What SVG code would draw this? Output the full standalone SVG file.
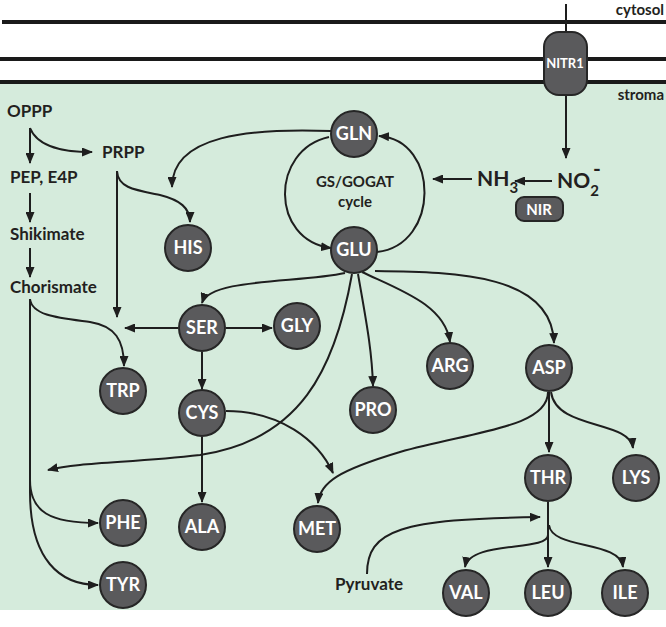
<svg xmlns="http://www.w3.org/2000/svg" width="666" height="627" viewBox="0 0 666 627">
<defs>
<marker id="ah" markerUnits="userSpaceOnUse" markerWidth="11" markerHeight="9" refX="10" refY="4.5" orient="auto">
<path d="M0,0 L11,4.5 L0,9 Z" fill="#1e1e1e"/>
</marker>
</defs>
<style>
.bg{fill:#d5ebdc}
.mem{stroke:#1a1a1a;stroke-width:4;fill:none}
.c{fill:none;stroke:#1e1e1e;stroke-width:2}
.a{fill:none;stroke:#1e1e1e;stroke-width:2;marker-end:url(#ah)}
.n circle{fill:#5a5a5c;stroke:#262626;stroke-width:2}
.n text{fill:#fff;font-family:Lato,"Open Sans",sans-serif;font-weight:bold;font-size:18px;text-anchor:middle}
.lbl{fill:#231f20;font-family:Lato,"Open Sans",sans-serif;font-weight:bold;font-size:17px}
.sm{fill:#231f20;font-family:Lato,"Open Sans",sans-serif;font-weight:bold;font-size:15px}
.big{fill:#231f20;font-family:Lato,"Open Sans",sans-serif;font-weight:bold;font-size:21px}
.prot rect{fill:#5a5a5c;stroke:#262626;stroke-width:2}
.prot text{fill:#fff;font-family:Lato,"Open Sans",sans-serif;font-weight:bold;text-anchor:middle}
</style>
<rect class="bg" x="0" y="84" width="666" height="526"/>
<g id="membranes">
<line class="mem" x1="2" y1="22" x2="666" y2="22"/>
<line class="mem" x1="0" y1="59" x2="666" y2="59"/>
<line class="mem" x1="0" y1="82" x2="666" y2="82"/>
<text class="sm" x="664" y="15" text-anchor="end">cytosol</text>
<text class="sm" x="664" y="100" text-anchor="end">stroma</text>
</g>
<g id="connectors">
<line class="c" x1="566" y1="4" x2="566" y2="33"/>
<line class="a" x1="566" y1="95" x2="566" y2="158"/>
<line class="a" x1="552" y1="181" x2="515" y2="181"/>
<line class="a" x1="472" y1="179" x2="433" y2="179"/>
<path class="a" d="M329,137 C270,150 270,240 331,248"/>
<path class="a" d="M377,252 C440,245 440,140 379,136"/>
<path class="a" d="M331,131 C250,128 172,135 172,187"/>
<path class="a" d="M30,128 L30,163"/>
<path class="a" d="M30,128 C38,148 65,152 92,152"/>
<path class="a" d="M30,193 L30,222"/>
<path class="a" d="M30,248 L30,277"/>
<path class="a" d="M117,171 L117,317"/>
<path class="a" d="M117,171 C118,188 135,190 160,195 C180,200 190,208 190,222"/>
<path class="a" d="M30,299 C32,316 60,318 90,322 C115,326 124,340 124,366"/>
<path class="a" d="M30,299 L30,480 C30,512 50,523 98,523"/>
<path class="a" d="M30,299 L30,492 C30,560 60,585 98,585"/>
<path class="a" d="M178,328 L125,328"/>
<path class="a" d="M226,328 L272,328"/>
<path class="a" d="M202,352 L202,389"/>
<path class="a" d="M202,437 L202,502"/>
<path class="a" d="M226,411 C280,411 318,440 333,473"/>
<path class="a" d="M345,273 C300,283 210,278 202,303"/>
<path class="a" d="M352,274 C335,370 300,440 200,455 C130,463 80,462 48,470"/>
<path class="a" d="M358,274 C366,320 372,350 373,386"/>
<path class="a" d="M362,272 C400,290 445,305 450,342"/>
<path class="a" d="M375,271 C460,272 552,275 554,343"/>
<path class="a" d="M549,392 L549,452"/>
<path class="a" d="M551,392 C556,430 630,420 633,448"/>
<path class="a" d="M548,392 C548,428 470,432 400,452 C340,470 320,482 318,503"/>
<path class="a" d="M548,502 L548,567"/>
<path class="a" d="M548,535 C548,552 470,540 465,567"/>
<path class="a" d="M549,525 C552,550 620,540 623,567"/>
<path class="a" d="M367,574 C367,530 400,519 540,517"/>
</g>
<g id="NITR1" class="prot">
<rect x="544" y="32" width="43" height="63" rx="15"/>
<text x="565" y="68" font-size="13">NITR1</text>
</g>
<g id="NIR" class="prot">
<rect x="516" y="197" width="47" height="24" rx="8"/>
<text x="539" y="215" font-size="15">NIR</text>
</g>
<g id="NO2"><text class="big" x="557" y="188">NO<tspan font-size="15" dy="8">2</tspan></text><text class="big" x="593" y="176" font-size="20">-</text></g>
<g id="NH3"><text class="big" x="477" y="186">NH<tspan font-size="15" dy="7">3</tspan></text></g>
<g id="OPPP"><text class="lbl" x="7" y="117" font-size="20">OPPP</text></g>
<g id="PRPP"><text class="lbl" x="102" y="158">PRPP</text></g>
<g id="PEP"><text class="lbl" x="10" y="183">PEP, E4P</text></g>
<g id="Shikimate"><text class="lbl" x="10" y="240">Shikimate</text></g>
<g id="Chorismate"><text class="lbl" x="10" y="293">Chorismate</text></g>
<g id="Pyruvate"><text class="lbl" x="335" y="590" font-size="16">Pyruvate</text></g>
<g id="cycle"><text class="sm" x="355" y="187" text-anchor="middle" fill="#333">GS/GOGAT</text><text class="sm" x="355" y="207" text-anchor="middle" fill="#333">cycle</text></g>
<g id="GLN" class="n"><circle cx="354" cy="134" r="23"/><text x="354" y="140">GLN</text></g>
<g id="GLU" class="n"><circle cx="354" cy="250" r="23"/><text x="354" y="256">GLU</text></g>
<g id="HIS" class="n"><circle cx="188" cy="248" r="23"/><text x="188" y="254">HIS</text></g>
<g id="SER" class="n"><circle cx="202" cy="328" r="23"/><text x="202" y="334">SER</text></g>
<g id="GLY" class="n"><circle cx="297" cy="326" r="23"/><text x="297" y="332">GLY</text></g>
<g id="TRP" class="n"><circle cx="123" cy="391" r="23"/><text x="123" y="397">TRP</text></g>
<g id="CYS" class="n"><circle cx="202" cy="413" r="23"/><text x="202" y="419">CYS</text></g>
<g id="PRO" class="n"><circle cx="373" cy="410" r="23"/><text x="373" y="416">PRO</text></g>
<g id="ARG" class="n"><circle cx="450" cy="366" r="23"/><text x="450" y="372">ARG</text></g>
<g id="ASP" class="n"><circle cx="549" cy="368" r="23"/><text x="549" y="374">ASP</text></g>
<g id="THR" class="n"><circle cx="548" cy="478" r="23"/><text x="548" y="484">THR</text></g>
<g id="LYS" class="n"><circle cx="636" cy="478" r="23"/><text x="636" y="484">LYS</text></g>
<g id="PHE" class="n"><circle cx="123" cy="523" r="23"/><text x="123" y="529">PHE</text></g>
<g id="ALA" class="n"><circle cx="202" cy="527" r="23"/><text x="202" y="533">ALA</text></g>
<g id="MET" class="n"><circle cx="317" cy="529" r="23"/><text x="317" y="535">MET</text></g>
<g id="TYR" class="n"><circle cx="123" cy="585" r="23"/><text x="123" y="591">TYR</text></g>
<g id="VAL" class="n"><circle cx="466" cy="593" r="23"/><text x="466" y="599">VAL</text></g>
<g id="LEU" class="n"><circle cx="548" cy="593" r="23"/><text x="548" y="599">LEU</text></g>
<g id="ILE" class="n"><circle cx="625" cy="593" r="23"/><text x="625" y="599">ILE</text></g>
</svg>
